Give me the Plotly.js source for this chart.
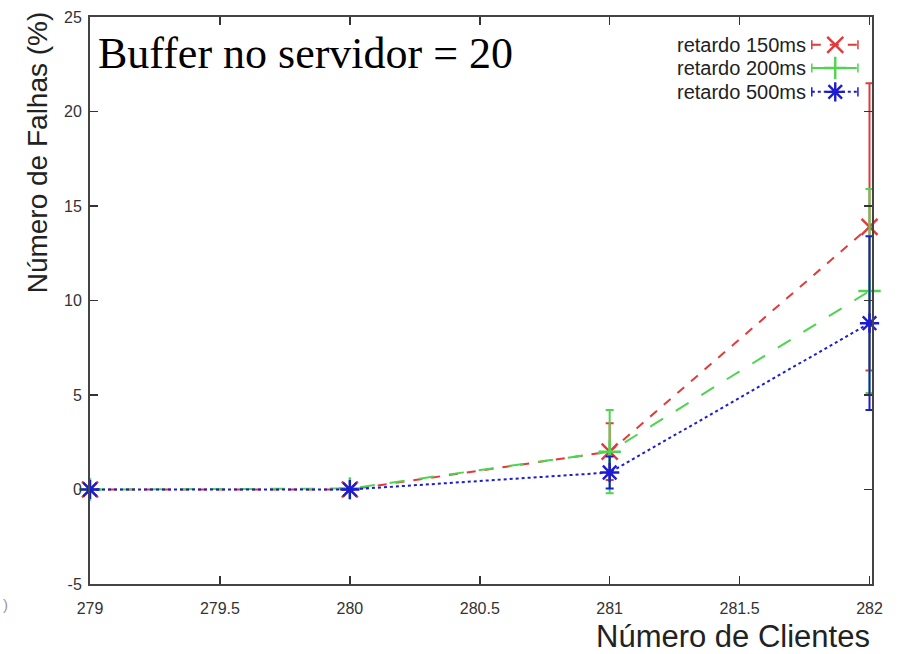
<!DOCTYPE html>
<html>
<head>
<meta charset="utf-8">
<script src="https://cdn.plot.ly/plotly-3.0.1.min.js"></script>
<style>html,body{margin:0;padding:0;background:#fff}#chart{width:903px;height:654px}</style>
</head>
<body>
<div id="chart"></div>
<script>
// Data
const clients = [279, 280, 281, 282];
const seriesNames = ["retardo 150ms", "retardo 200ms", "retardo 500ms"];
const fail150 = [0, 0, 2.0, 13.9];
const err150 = [0, 0, 1.5, 7.6];
const fail200 = [0, 0.05, 2.0, 10.5];
const err200 = [0, 0, 2.2, 5.4];
const fail500 = [0, 0, 0.9, 8.8];
const err500 = [0, 0, 0.85, 4.6];
const xTicks = [279, 279.5, 280, 280.5, 281, 281.5, 282];
const yTicks = [-5, 0, 5, 10, 15, 20, 25];

const colors = ["#e23a3a", "#4fd44f", "#1c1cd0"];
const dashes = ["dash", "longdash", "dot"];
const symbols = ["x-thin-open", "cross-thin-open", "asterisk-open"];
const vals = [fail150, fail200, fail500];
const errs = [err150, err200, err500];

const traces = vals.map((v, i) => ({
  x: clients, y: v, type: "scatter", mode: "lines+markers", name: seriesNames[i],
  cliponaxis: false,
  line: {color: colors[i], dash: dashes[i], width: 2},
  marker: {symbol: symbols[i], size: 16, color: colors[i], line: {color: colors[i], width: 2.4}},
  error_y: {type: "data", array: errs[i], visible: true, color: colors[i], thickness: 2, width: 4},
  showlegend: false
}));

// custom legend (text left, sample right)
const legRows = [0.951, 0.910, 0.868];
const legX0 = 0.923, legX1 = 0.982, legXm = 0.953;
seriesNames.forEach((n, i) => {
  traces.push({
    x: [legX0, legX1], y: [legRows[i], legRows[i]], xaxis: "x2", yaxis: "y2",
    type: "scatter", mode: "lines", line: {color: colors[i], dash: dashes[i], width: 2},
    error_y: {type: "constant", value: 0.008, color: colors[i], thickness: 1.5, width: 0},
    showlegend: false, hoverinfo: "skip"
  });
  traces.push({
    x: [legXm], y: [legRows[i]], xaxis: "x2", yaxis: "y2",
    type: "scatter", mode: "markers",
    marker: {symbol: symbols[i], size: 16, color: colors[i], line: {color: colors[i], width: 2.4}},
    showlegend: false, hoverinfo: "skip"
  });
});

const axisFont = {family: "Liberation Sans, Arial, sans-serif", size: 16, color: "#333"};
const annotations = seriesNames.map((n, i) => ({
  text: n, xref: "paper", yref: "paper", x: 0.918, y: legRows[i],
  xanchor: "right", yanchor: "middle", showarrow: false,
  font: {family: "Liberation Sans, Arial, sans-serif", size: 20, color: "#222"}
}));
annotations.push({
  text: "Buffer no servidor = 20", xref: "paper", yref: "paper", x: 0.008, y: 0.935,
  xanchor: "left", yanchor: "middle", showarrow: false,
  font: {family: "Liberation Serif, Times New Roman, serif", size: 44, color: "#000"}
});
annotations.push({
  text: "Número de Falhas (%)", xref: "paper", yref: "paper", x: -0.066, y: 0.762,
  xanchor: "center", yanchor: "middle", textangle: -90, showarrow: false,
  font: {family: "Liberation Sans, Arial, sans-serif", size: 28, color: "#222"}
});
annotations.push({
  text: "Número de Clientes", xref: "paper", yref: "paper", x: 1.0, y: -0.092,
  xanchor: "right", yanchor: "middle", showarrow: false,
  font: {family: "Liberation Sans, Arial, sans-serif", size: 31, color: "#222"}
});
annotations.push({
  text: ")", xref: "paper", yref: "paper", x: -0.108, y: -0.037,
  xanchor: "center", yanchor: "middle", showarrow: false,
  font: {family: "Liberation Sans, Arial, sans-serif", size: 15, color: "#999"}
});

const layout = {
  width: 903, height: 654,
  margin: {l: 90, r: 31, t: 17, b: 70},
  paper_bgcolor: "#fff", plot_bgcolor: "#fff",
  showlegend: false,
  xaxis: {
    range: [279, 282.0096], tickvals: xTicks, ticktext: xTicks.map(String),
    ticks: "inside", ticklen: 8, tickcolor: "#333", tickwidth: 1.5,
    mirror: "allticks", showline: true, linecolor: "#444", linewidth: 2,
    showgrid: false, zeroline: false, tickfont: axisFont, ticklabelstandoff: 9
  },
  yaxis: {
    range: [-5, 25], tickvals: yTicks, ticktext: yTicks.map(String),
    ticks: "inside", ticklen: 8, tickcolor: "#333", tickwidth: 1.5,
    mirror: "allticks", showline: true, linecolor: "#444", linewidth: 2,
    showgrid: false, zeroline: false, tickfont: axisFont, ticklabelstandoff: 3
  },
  xaxis2: {overlaying: "x", range: [0, 1], visible: false, fixedrange: true},
  yaxis2: {overlaying: "y", range: [0, 1], visible: false, fixedrange: true},
  annotations: annotations
};

Plotly.newPlot("chart", traces, layout, {displayModeBar: false, staticPlot: true});
</script>
</body>
</html>
